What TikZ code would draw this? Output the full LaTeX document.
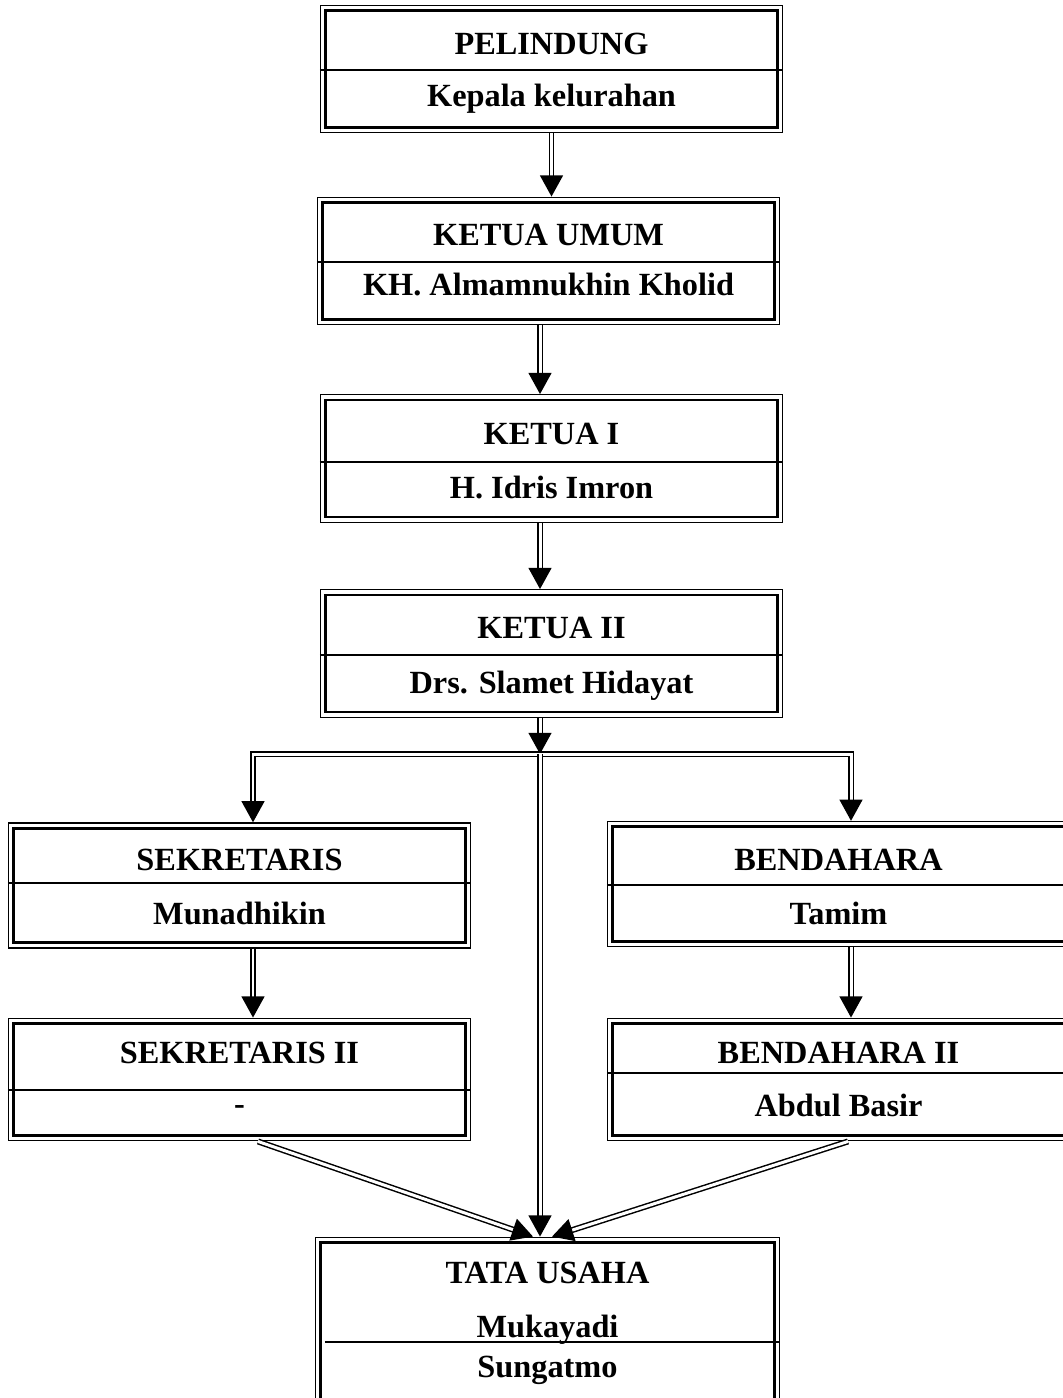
\documentclass[tikz,border=0pt]{standalone}
\usepackage{fontspec}
\setmainfont{Liberation Serif}
\usetikzlibrary{arrows.meta}

\tikzset{
  orgbox/.style={draw, line width=0.8pt,
    minimum width=9.24cm, minimum height=2.55cm, inner sep=0pt,
    append after command={\pgfextra{\draw[line width=1.6pt]
      ([xshift=3.4pt,yshift=-3.4pt]\tikzlastnode.north west) rectangle
      ([xshift=-3.4pt,yshift=3.4pt]\tikzlastnode.south east);}}},
  jabatan/.style={anchor=base, font=\fontsize{18.4}{22}\selectfont\bfseries},
  divline/.style={line width=1.1pt},
  dblline/.style={double, double distance=1.7pt, line width=0.85pt},
  dblarrow/.style={dblline, -{Triangle[width=13pt,length=12pt]}},
}

\begin{document}
\begin{tikzpicture}[x=0.02cm,y=-0.02cm]
\useasboundingbox (0,0) rectangle (1062,1398);
% Pelindung
\node[orgbox] (pelindung) at (551.5,69) {};
\draw[divline] (pelindung.west |- 0,70) -- (pelindung.east |- 0,70);
\node[jabatan] (pelindung-jab) at (551.5,55) {PELINDUNG};
\node[jabatan] (pelindung-nama) at (551.5,107) {Kepala kelurahan};
% Ketua umum
\node[orgbox] (ketuaumum) at (548.5,261) {};
\draw[divline] (ketuaumum.west |- 0,262) -- (ketuaumum.east |- 0,262);
\node[jabatan] (ketuaumum-jab) at (548.5,246) {KETUA UMUM};
\node[jabatan] (ketuaumum-nama) at (548.5,296) {KH. Almamnukhin Kholid};
% Ketua I
\node[orgbox] (ketuasatu) at (551.5,458.5) {};
\draw[divline] (ketuasatu.west |- 0,462) -- (ketuasatu.east |- 0,462);
\node[jabatan] (ketuasatu-jab) at (551.5,444) {KETUA I};
\node[jabatan] (ketuasatu-nama) at (551.5,498) {H. Idris Imron};
% Ketua II
\node[orgbox] (ketuadua) at (551.5,653.5) {};
\draw[divline] (ketuadua.west |- 0,655) -- (ketuadua.east |- 0,655);
\node[jabatan] (ketuadua-jab) at (551.5,638) {KETUA II};
\node[jabatan] (ketuadua-nama) at (551.5,693) {Drs. Slamet Hidayat};
% Sekretaris
\node[orgbox, minimum height=2.5cm] (sekretaris) at (239.5,885.5) {};
\draw[divline] (sekretaris.west |- 0,883) -- (sekretaris.east |- 0,883);
\node[jabatan] (sekretaris-jab) at (239.5,870) {SEKRETARIS};
\node[jabatan] (sekretaris-nama) at (239.5,924) {Munadhikin};
% Bendahara
\node[orgbox, minimum height=2.5cm] (bendahara) at (838.5,884) {};
\draw[divline] (bendahara.west |- 0,885) -- (bendahara.east |- 0,885);
\node[jabatan] (bendahara-jab) at (838.5,870) {BENDAHARA};
\node[jabatan] (bendahara-nama) at (838.5,924) {Tamim};
% Sekretaris II
\node[orgbox, minimum height=2.45cm] (sekretarisdua) at (239.5,1079.5) {};
\draw[divline] (sekretarisdua.west |- 0,1090) -- (sekretarisdua.east |- 0,1090);
\node[jabatan] (sekretarisdua-jab) at (239.5,1063) {SEKRETARIS II};
\node[jabatan] (sekretarisdua-nama) at (239.5,1114) {-};
% Bendahara II
\node[orgbox, minimum height=2.45cm] (bendaharadua) at (838.5,1079.5) {};
\draw[divline] (bendaharadua.west |- 0,1073) -- (bendaharadua.east |- 0,1073);
\node[jabatan] (bendaharadua-jab) at (838.5,1063) {BENDAHARA II};
\node[jabatan] (bendaharadua-nama) at (838.5,1116) {Abdul Basir};
% Tata usaha
\node[orgbox, minimum width=9.28cm, minimum height=3.75cm] (tatausaha) at (547.5,1331) {};
\draw[divline] ([xshift=0.2cm]tatausaha.west |- 0,1342) -- (tatausaha.east |- 0,1342);
\node[jabatan] (tatausaha-jab) at (547.5,1283) {TATA USAHA};
\node[jabatan] (tatausaha-nama) at (547.5,1337) {Mukayadi};
\node[jabatan] (tatausaha-nama2) at (547.5,1377) {Sungatmo};

% connectors
\coordinate (spine) at (540,754);
\coordinate (kiri) at (253,754);
\coordinate (kanan) at (851,754);
\draw[dblarrow] (pelindung.south) -- (ketuaumum.north -| pelindung.south);
\draw[dblarrow] (ketuaumum.south -| spine) -- (ketuasatu.north -| spine);
\draw[dblarrow] (ketuasatu.south -| spine) -- (ketuadua.north -| spine);
\draw[dblarrow] (ketuadua.south -| spine) -- (spine);
\draw[dblarrow] (spine) -- (kiri) -- (kiri |- sekretaris.north);
\draw[dblarrow] (spine) -- (kanan) -- (kanan |- bendahara.north);
\draw[dblarrow] (sekretaris.south -| kiri) -- (sekretarisdua.north -| kiri);
\draw[dblarrow] (bendahara.south -| kanan) -- (bendaharadua.north -| kanan);
\draw[dblarrow] ([xshift=0.37cm]sekretarisdua.south) -- ([xshift=-0.29cm]tatausaha.north);
\draw[dblarrow] ([xshift=0.19cm]bendaharadua.south) -- ([xshift=0.09cm]tatausaha.north);
\draw[dblarrow] (spine) -- (spine |- tatausaha.north);
\end{tikzpicture}
\end{document}
